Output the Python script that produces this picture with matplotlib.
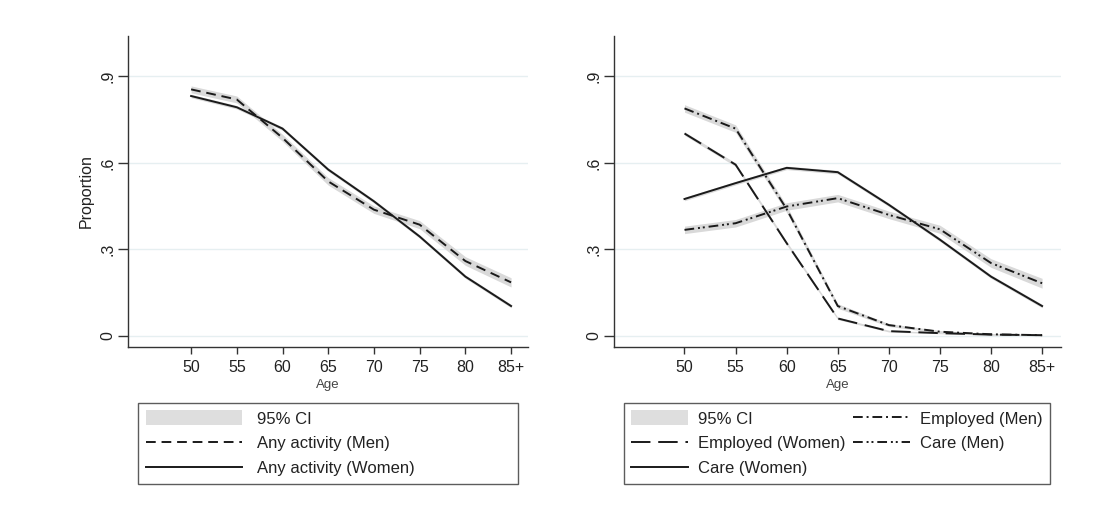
import numpy as np
import matplotlib
matplotlib.use("Agg")
import matplotlib.pyplot as plt
from matplotlib.patches import Patch
from matplotlib.lines import Line2D

plt.rcParams['font.family'] = ['Liberation Sans', 'DejaVu Sans']

ages = ["50", "55", "60", "65", "70", "75", "80", "85+"]

# left panel: any activity
any_men = [0.855, 0.820, 0.687, 0.536, 0.438, 0.386, 0.260, 0.186]
any_women = [0.832, 0.793, 0.719, 0.577, 0.467, 0.345, 0.206, 0.104]
any_men_ci = [0.012, 0.012, 0.012, 0.013, 0.013, 0.014, 0.015, 0.016]
any_women_ci = [0.006, 0.006, 0.006, 0.006, 0.006, 0.006, 0.006, 0.006]

# right panel: employed / care
emp_men = [0.789, 0.719, 0.440, 0.104, 0.038, 0.015, 0.006, 0.003]
emp_women = [0.702, 0.594, 0.322, 0.061, 0.017, 0.010, 0.005, 0.003]
care_men = [0.368, 0.391, 0.449, 0.478, 0.420, 0.370, 0.253, 0.183]
care_women = [0.475, 0.530, 0.583, 0.568, 0.455, 0.334, 0.206, 0.104]
emp_men_ci = [0.013, 0.013, 0.012, 0.008, 0.005, 0.004, 0.003, 0.002]
emp_women_ci = [0.006, 0.006, 0.006, 0.004, 0.003, 0.002, 0.002, 0.002]
care_men_ci = [0.013, 0.013, 0.013, 0.013, 0.013, 0.014, 0.015, 0.017]
care_women_ci = [0.006, 0.006, 0.006, 0.006, 0.006, 0.006, 0.006, 0.006]

yticks = [0, 0.3, 0.6, 0.9]
ytick_labels = ["0", ".3", ".6", ".9"]

LINE = "#1a1a1a"
BAND = "#d9d9d9"
GRID = "#e6eff1"
TXT = "#222222"

styles = {
    "dash": (0, (5, 3)),
    "longdash": (0, (10, 4)),
    "dashdot": (0, (5, 2, 1, 2)),
    "dashdotdot": (0, (5, 2, 1, 1.5, 1, 2)),
    "solid": "-",
}

fig = plt.figure(figsize=(10.95, 5.15), dpi=100)
axL = fig.add_axes([128 / 1095, 1 - 347 / 515, 400 / 1095, 311 / 515])
axR = fig.add_axes([614 / 1095, 1 - 347 / 515, 447 / 1095, 311 / 515])

x = np.arange(len(ages))


def style_axis(ax):
    ax.set_xlim(-1.38, 7.37)
    ax.set_ylim(-0.038, 1.04)
    ax.set_yticks(yticks)
    ax.set_yticklabels(ytick_labels, rotation=90, va="center")
    ax.set_xticks(x)
    ax.set_xticklabels(ages)
    for y in yticks:
        ax.axhline(y, color=GRID, lw=1.0, zorder=0)
    for s in ["top", "right"]:
        ax.spines[s].set_visible(False)
    for s in ["left", "bottom"]:
        ax.spines[s].set_color("#333333")
        ax.spines[s].set_linewidth(1.0)
    ax.tick_params(axis="y", length=7, width=1, color="#333333", pad=2,
                   labelsize=11.5, labelcolor=TXT)
    ax.tick_params(axis="x", length=5, width=1, color="#333333", pad=4,
                   labelsize=11.5, labelcolor=TXT)
    ax.set_xlabel("Age", fontsize=9.5, color="#444444", labelpad=3)


def draw(ax, vals, ci, ls, lw=1.4):
    v = np.array(vals)
    h = np.array(ci)
    ax.fill_between(x, v - h, v + h, color=BAND, lw=0, zorder=1)
    ax.plot(x, v, color=LINE, lw=lw, linestyle=ls, zorder=3)


# left panel
draw(axL, any_men, any_men_ci, styles["dash"])
draw(axL, any_women, any_women_ci, styles["solid"])
style_axis(axL)
axL.set_ylabel("Proportion", fontsize=11.5, color=TXT, labelpad=5)

hL = [Patch(facecolor="#dedede", edgecolor="none", label="95% CI"),
      Line2D([], [], color=LINE, lw=1.4, linestyle=styles["dash"], label="Any activity (Men)"),
      Line2D([], [], color=LINE, lw=1.4, linestyle=styles["solid"], label="Any activity (Women)")]
legL = axL.legend(handles=hL, loc="upper left", bbox_to_anchor=(0.025, -0.18, 0.95, 0),
                  mode="expand", ncol=1, fontsize=12, frameon=True, fancybox=False,
                  edgecolor="#333333", handlelength=5.8, handleheight=1.0,
                  handletextpad=0.9, labelspacing=0.52, borderpad=0.45,
                  borderaxespad=0)
legL.get_frame().set_linewidth(1.0)
for t in legL.get_texts():
    t.set_color(TXT)

# right panel
draw(axR, emp_men, emp_men_ci, styles["dashdot"])
draw(axR, emp_women, emp_women_ci, styles["longdash"])
draw(axR, care_men, care_men_ci, styles["dashdotdot"])
draw(axR, care_women, care_women_ci, styles["solid"])
style_axis(axR)

hR = [Patch(facecolor="#dedede", edgecolor="none", label="95% CI"),
      Line2D([], [], color=LINE, lw=1.4, linestyle=styles["longdash"], label="Employed (Women)"),
      Line2D([], [], color=LINE, lw=1.4, linestyle=styles["solid"], label="Care (Women)"),
      Line2D([], [], color=LINE, lw=1.4, linestyle=styles["dashdot"], label="Employed (Men)"),
      Line2D([], [], color=LINE, lw=1.4, linestyle=styles["dashdotdot"], label="Care (Men)")]
legR = axR.legend(handles=hR, loc="upper left", bbox_to_anchor=(0.022, -0.18, 0.953, 0),
                  mode="expand", ncol=2, fontsize=12, frameon=True, fancybox=False,
                  edgecolor="#333333", handlelength=3.4, handleheight=1.0,
                  handletextpad=0.6, labelspacing=0.52, borderpad=0.45,
                  columnspacing=0.3, borderaxespad=0)
legR.get_frame().set_linewidth(1.0)
for t in legR.get_texts():
    t.set_color(TXT)

fig.savefig("out.png", dpi=100, facecolor="white")
